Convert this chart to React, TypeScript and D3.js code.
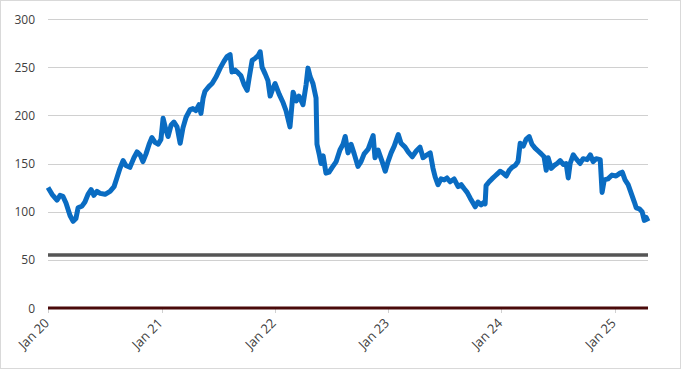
import * as d3 from "d3";
import { useEffect, useRef } from "react";

const WIDTH = 681;
const HEIGHT = 369;

// share price
const priceDates = [
  "2020-01-01", "2020-01-14", "2020-01-30", "2020-02-09", "2020-02-18", "2020-02-28",
  "2020-03-12", "2020-03-22", "2020-03-31", "2020-04-07", "2020-04-20", "2020-04-29",
  "2020-05-09", "2020-05-19", "2020-05-28", "2020-06-07", "2020-06-17", "2020-07-03",
  "2020-07-19", "2020-08-01", "2020-08-10", "2020-08-20", "2020-08-30", "2020-09-08",
  "2020-09-21", "2020-10-04", "2020-10-14", "2020-10-24", "2020-11-02", "2020-11-12",
  "2020-11-22", "2020-12-01", "2020-12-11", "2020-12-21", "2020-12-30",
  "2021-01-06", "2021-01-15", "2021-01-22", "2021-02-01", "2021-02-10", "2021-02-20",
  "2021-03-02", "2021-03-11", "2021-03-21", "2021-04-03", "2021-04-12", "2021-04-22",
  "2021-05-02", "2021-05-08", "2021-05-15", "2021-05-21", "2021-06-03", "2021-06-13",
  "2021-06-26", "2021-07-09", "2021-07-21", "2021-07-31", "2021-08-10", "2021-08-16",
  "2021-08-26", "2021-09-05", "2021-09-14", "2021-09-24", "2021-10-04", "2021-10-10",
  "2021-10-20", "2021-10-29", "2021-11-08", "2021-11-15", "2021-11-21", "2021-12-01",
  "2021-12-10", "2021-12-17", "2021-12-26",
  "2022-01-02", "2022-01-15", "2022-01-28", "2022-02-06", "2022-02-19", "2022-03-01",
  "2022-03-11", "2022-03-20", "2022-04-02", "2022-04-12", "2022-04-18", "2022-04-25",
  "2022-05-04", "2022-05-14", "2022-05-17", "2022-05-24", "2022-05-30", "2022-06-06",
  "2022-06-15", "2022-06-25", "2022-07-05", "2022-07-18", "2022-07-30", "2022-08-09",
  "2022-08-16", "2022-08-25", "2022-09-04", "2022-09-14", "2022-09-26", "2022-10-06",
  "2022-10-16", "2022-10-29", "2022-11-14", "2022-11-20", "2022-11-30", "2022-12-13",
  "2022-12-23",
  "2023-01-01", "2023-01-11", "2023-01-21", "2023-02-03", "2023-02-12", "2023-02-25",
  "2023-03-07", "2023-03-20", "2023-04-02", "2023-04-14", "2023-04-24", "2023-05-07",
  "2023-05-17", "2023-05-26", "2023-06-02", "2023-06-11", "2023-06-21", "2023-07-01",
  "2023-07-10", "2023-07-20", "2023-08-02", "2023-08-15", "2023-08-25", "2023-09-03",
  "2023-09-13", "2023-09-23", "2023-10-02", "2023-10-09", "2023-10-18", "2023-10-28",
  "2023-11-07", "2023-11-10", "2023-11-13", "2023-11-23", "2023-12-02", "2023-12-12",
  "2023-12-22", "2023-12-28",
  "2024-01-07", "2024-01-17", "2024-01-27", "2024-02-05", "2024-02-15", "2024-02-24",
  "2024-03-02", "2024-03-12", "2024-03-21", "2024-03-31", "2024-04-09", "2024-04-19",
  "2024-04-29", "2024-05-09", "2024-05-18", "2024-05-25", "2024-05-31", "2024-06-10",
  "2024-06-20", "2024-06-29", "2024-07-09", "2024-07-19", "2024-07-28", "2024-08-04",
  "2024-08-10", "2024-08-20", "2024-08-29", "2024-09-11", "2024-09-21", "2024-10-04",
  "2024-10-14", "2024-10-23", "2024-11-02", "2024-11-15", "2024-11-21", "2024-11-28",
  "2024-12-10", "2024-12-23",
  "2025-01-05", "2025-01-18", "2025-01-25", "2025-02-03", "2025-02-13", "2025-02-23",
  "2025-03-05", "2025-03-11", "2025-03-21", "2025-03-30", "2025-04-06", "2025-04-12",
  "2025-04-18",
];

const priceValues = [
  125, 118, 112, 117, 116, 109,
  96, 90, 93, 104, 106, 110,
  118, 123, 117, 121, 119, 118,
  121, 126, 135, 145, 153, 148,
  146, 156, 162, 159, 152, 160,
  170, 177, 172, 170, 175,
  197, 185, 178, 190, 193, 188,
  171, 187, 198, 206, 207, 205,
  211, 202, 218, 225, 230, 233,
  240, 249, 256, 261, 263, 245,
  247, 244, 241, 232, 226, 238,
  257, 259, 262, 266, 250, 243,
  236, 220, 228,
  233, 222, 213, 205, 188, 224,
  215, 220, 211, 232, 249, 240,
  233, 218, 170, 160, 150, 158,
  140, 141, 146, 152, 164, 170,
  178, 161, 170, 160, 147, 152,
  160, 165, 179, 156, 164, 152,
  142,
  152, 161, 168, 180, 171, 167,
  162, 157, 163, 167, 156, 159,
  161, 145, 136, 128, 134, 133,
  135, 131, 134, 126, 128, 124,
  120, 114, 109, 105, 110, 107,
  110, 108, 127, 131, 134, 137,
  140, 142,
  140, 137, 143, 146, 148, 152,
  171, 168, 175, 178, 170, 166,
  163, 160, 157, 143, 156, 145,
  148, 150, 153, 149, 150, 135,
  150, 159, 155, 150, 155, 154,
  159, 152, 155, 154, 120, 133,
  134, 138,
  137, 140, 141, 133, 128, 119,
  110, 104, 103, 100, 91, 94,
  90,
];

// flat reference levels
const referenceLevel = 55;
const zeroLevel = 0;

const yTicks = [0, 50, 100, 150, 200, 250, 300];
const xTickYears = [2020, 2021, 2022, 2023, 2024, 2025];

export default function App() {
  const ref = useRef<SVGSVGElement>(null);

  useEffect(() => {
    if (!ref.current) return;
    const svg = d3.select(ref.current);
    svg.selectAll("*").remove();

    const parse = d3.timeParse("%Y-%m-%d");
    const data = priceDates.map((d, i) => ({ date: parse(d)!, value: priceValues[i] }));

    const left = 48;
    const right = 648;
    const top = 19;
    const bottom = 308;

    const x = d3
      .scaleTime()
      .domain([data[0].date, data[data.length - 1].date])
      .range([left, right]);
    const y = d3.scaleLinear().domain([0, 300]).range([bottom, top]);

    svg
      .append("rect")
      .attr("x", 0.5)
      .attr("y", 0.5)
      .attr("width", WIDTH - 1)
      .attr("height", HEIGHT - 1)
      .attr("fill", "#fff")
      .attr("stroke", "#d9d9d9");

    // gridlines
    svg
      .append("g")
      .selectAll("line")
      .data(yTicks)
      .join("line")
      .attr("x1", left)
      .attr("x2", right)
      .attr("y1", (d) => Math.round(y(d)) + 0.5)
      .attr("y2", (d) => Math.round(y(d)) + 0.5)
      .attr("stroke", "#d0d0d0")
      .attr("stroke-width", 1);

    // y labels
    svg
      .append("g")
      .selectAll("text")
      .data(yTicks)
      .join("text")
      .attr("x", 35)
      .attr("y", (d) => y(d) + 4.5)
      .attr("text-anchor", "end")
      .style("font-family", "'Open Sans', sans-serif")
      .style("font-size", "12px")
      .style("fill", "#404040")
      .text((d) => d);

    // x ticks + labels
    const xTicks = xTickYears.map((yr) => new Date(yr, 0, 1));
    const fmt = d3.timeFormat("Jan %y");
    const xg = svg.append("g");
    xg.selectAll("line")
      .data(xTicks)
      .join("line")
      .attr("x1", (d) => Math.round(x(d)) + 0.5)
      .attr("x2", (d) => Math.round(x(d)) + 0.5)
      .attr("y1", bottom)
      .attr("y2", bottom + 5)
      .attr("stroke", "#d0d0d0");
    xg.selectAll("text")
      .data(xTicks)
      .join("text")
      .attr("transform", (d) => `translate(${x(d) + 2},${bottom + 16}) rotate(-45)`)
      .attr("text-anchor", "end")
      .style("font-family", "'Open Sans', sans-serif")
      .style("font-size", "13px")
      .style("fill", "#404040")
      .text((d) => fmt(d));

    const flat = (v: number) =>
      d3.line<Date>().x((d) => x(d)).y(() => y(v))([data[0].date, data[data.length - 1].date]);

    svg
      .append("path")
      .attr("d", flat(referenceLevel))
      .attr("fill", "none")
      .attr("stroke", "#555555")
      .attr("stroke-width", 3.5);

    svg
      .append("path")
      .attr("d", flat(zeroLevel))
      .attr("fill", "none")
      .attr("stroke", "#4a0a0a")
      .attr("stroke-width", 3);

    const line = d3
      .line<{ date: Date; value: number }>()
      .x((d) => x(d.date))
      .y((d) => y(d.value));

    svg
      .append("path")
      .datum(data)
      .attr("d", line)
      .attr("fill", "none")
      .attr("stroke", "#0a6cc2")
      .attr("stroke-width", 5)
      .attr("stroke-linejoin", "round");
  }, []);

  return (
    <div style={{ position: "absolute", left: 0, top: 0 }}>
      <svg ref={ref} width={WIDTH} height={HEIGHT} style={{ display: "block" }} />
    </div>
  );
}
